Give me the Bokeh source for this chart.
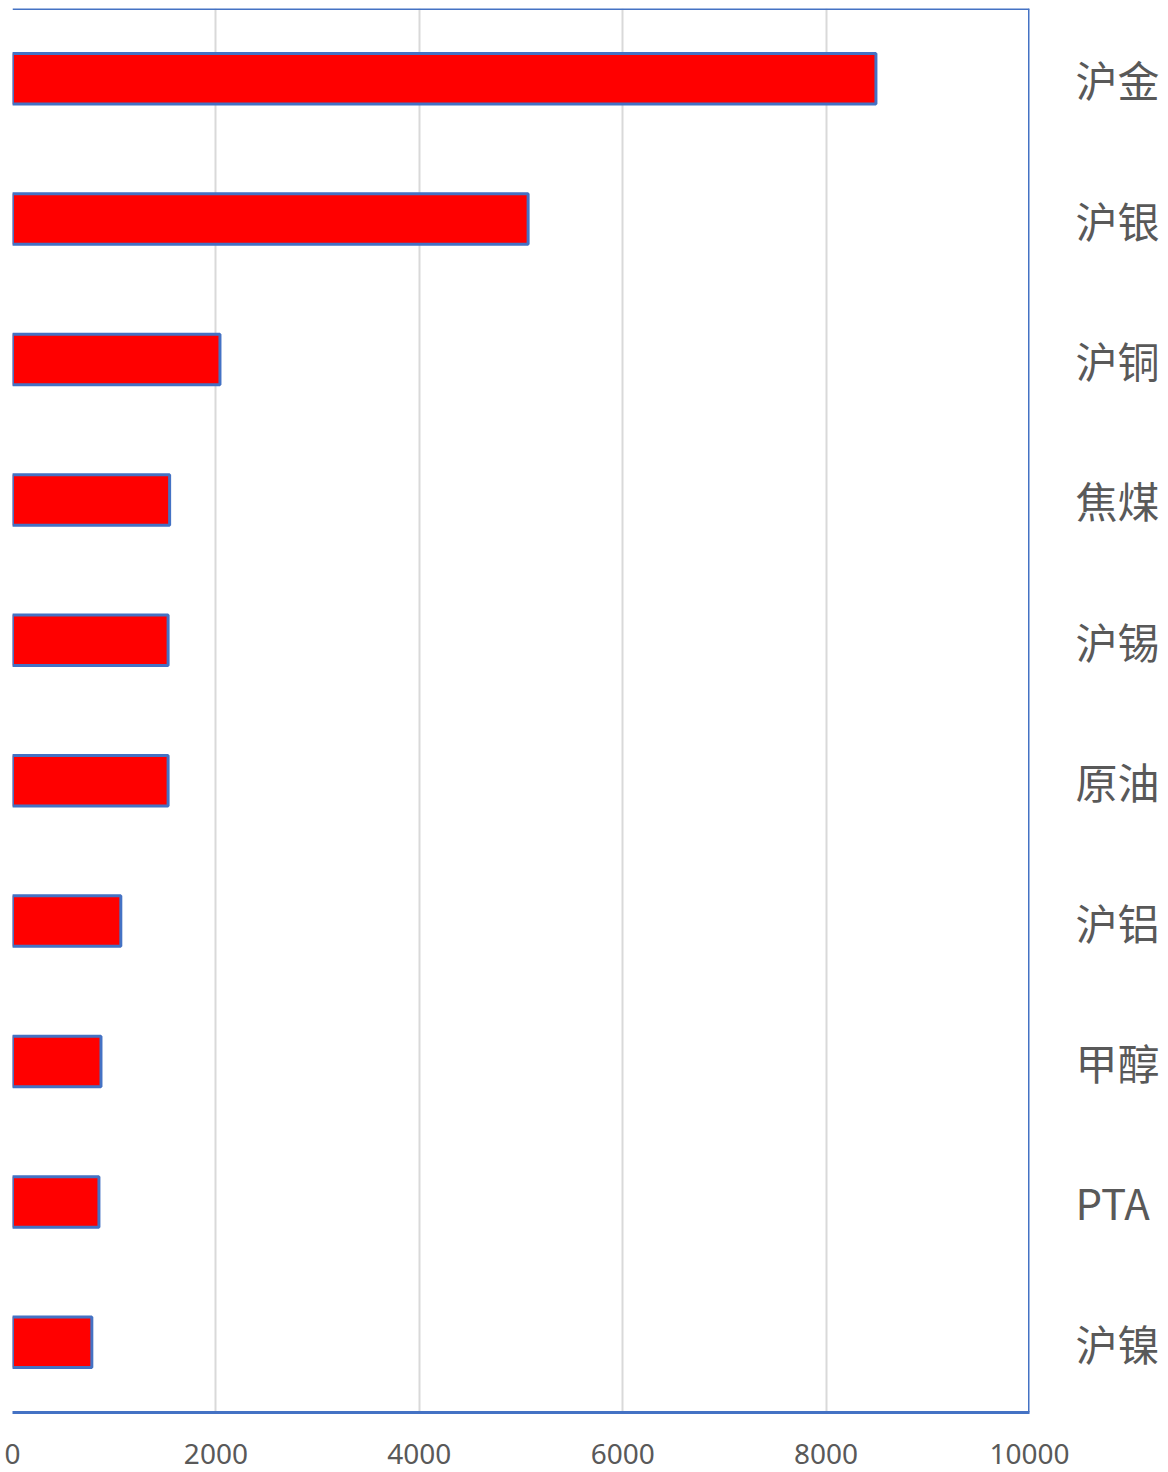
from bokeh.plotting import figure
from bokeh.models import ColumnDataSource, FactorRange, Range1d, Span, FixedTicker
from bokeh.embed import file_html
from bokeh.resources import INLINE

categories = ["沪金", "沪银", "沪铜", "焦煤", "沪锡", "原油", "沪铝", "甲醇", "PTA", "沪镍"]
values = [8490, 5070, 2040, 1545, 1530, 1530, 1065, 870, 850, 780]
x_ticks = [0, 2000, 4000, 6000, 8000, 10000]

factors = list(reversed(categories))
src = ColumnDataSource(dict(cat=categories, val=values))

p = figure(
    y_range=FactorRange(factors=factors, range_padding=0),
    x_range=Range1d(0, 10000),
    frame_width=1017, frame_height=1404,
    y_axis_location="right",
    output_backend="svg", toolbar_location=None,
    min_border_left=12, min_border_top=8, min_border_bottom=58, min_border_right=0,
)
p.hbar(y="cat", right="val", left=0, height=0.36, source=src,
       fill_color="#FF0000", line_color="#4472C4", line_width=3)

p.outline_line_color = None
p.ygrid.grid_line_color = None
p.xgrid.grid_line_color = "#D9D9D9"
p.xgrid.grid_line_width = 2
p.xaxis.ticker = FixedTicker(ticks=x_ticks)

p.xaxis.axis_line_color = "#4472C4"
p.xaxis.axis_line_width = 3
p.xaxis.major_tick_line_color = None
p.xaxis.minor_tick_line_color = None
p.xaxis.major_tick_out = 0
p.xaxis.major_label_standoff = 31
p.xaxis.major_label_text_font = "Noto Sans"
p.xaxis.major_label_text_font_size = "28px"
p.xaxis.major_label_text_color = "#595959"

p.yaxis.axis_line_color = None
p.yaxis.major_tick_line_color = None
p.yaxis.minor_tick_line_color = None
p.yaxis.major_tick_out = 0
p.yaxis.major_label_standoff = 46
p.yaxis.major_label_text_font = "Noto Sans CJK SC"
p.yaxis.major_label_text_font_size = "42px"
p.yaxis.major_label_text_color = "#595959"

p.add_layout(Span(location=10, dimension="width", line_color="#4472C4", line_width=3))
p.add_layout(Span(location=10000, dimension="height", line_color="#4472C4", line_width=3))

open("out.html", "w").write(file_html(p, INLINE))
